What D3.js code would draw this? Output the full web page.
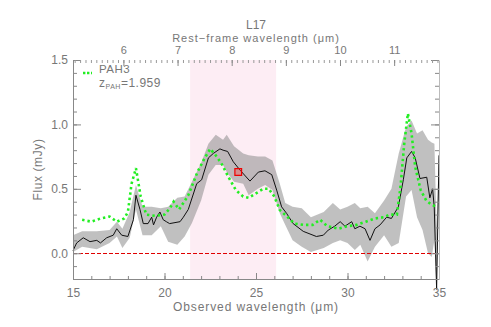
<!DOCTYPE html>
<html><head><meta charset="utf-8">
<script src="https://cdn.jsdelivr.net/npm/d3@7"></script>
<style>
html,body{margin:0;padding:0;background:#fff;}
svg text{font-family:"Liberation Sans",Arial,sans-serif;fill:#777;}
</style></head>
<body><svg id="c" width="491" height="327"></svg>
<script>
// ---- data ----
const obsWave = [15.0,15.2,15.56,15.93,16.3,16.5,16.84,17.2,17.39,17.66,18.0,18.3,18.44,18.66,18.84,19.1,19.3,19.4,19.57,19.75,19.93,20.1,20.28,20.85,21.03,21.3,21.76,22.03,22.4,22.67,23.03,23.2,23.45,23.76,24.13,24.67,25.13,25.49,25.86,26.13,26.4,26.67,27.03,27.58,28.3,28.68,28.95,29.3,29.6,29.86,30.23,30.4,30.68,30.96,31.23,31.5,31.78,32.14,32.4,32.78,33.05,33.24,33.5,33.7,33.96,34.33,34.5,34.65,34.74,34.87,35.0];
const obsFlux = [0.02,0.08,0.12,0.09,0.10,0.08,0.12,0.14,0.19,0.14,0.13,0.26,0.45,0.34,0.23,0.23,0.28,0.22,0.28,0.32,0.26,0.245,0.23,0.245,0.28,0.34,0.54,0.57,0.74,0.775,0.81,0.80,0.79,0.71,0.645,0.56,0.63,0.64,0.61,0.49,0.36,0.31,0.23,0.17,0.13,0.14,0.18,0.21,0.245,0.21,0.245,0.19,0.21,0.19,0.10,0.19,0.22,0.28,0.27,0.36,0.57,0.74,0.79,0.74,0.58,0.59,0.43,0.50,0.36,-0.28,0.76];

const bandWave = [15.0,15.5,16.3,17.0,17.4,17.7,18.1,18.44,18.8,19.3,19.8,20.2,20.7,21.1,21.5,22.0,22.4,22.8,23.2,23.4,23.8,24.3,24.6,25.1,25.5,25.9,26.3,26.6,27.0,27.5,28.0,28.7,29.2,29.6,30.0,30.4,30.7,31.1,31.5,32.0,32.4,32.8,33.2,33.5,33.8,34.1,34.4,34.6,34.75,34.87,35.0];
const bandLow = [0.01,0.05,0.03,0.08,0.13,0.04,0.12,0.34,0.14,0.14,0.21,0.09,0.065,0.13,0.235,0.41,0.61,0.685,0.685,0.63,0.555,0.54,0.45,0.50,0.53,0.49,0.31,0.22,0.10,0.05,0.01,0.04,0.08,0.10,0.08,0.025,0.065,-0.065,0.05,0.14,0.05,0.08,0.44,0.49,0.28,0.18,0.0,-0.03,0.10,-0.30,0.70];
const bandHigh = [0.14,0.17,0.17,0.18,0.245,0.19,0.32,0.53,0.36,0.36,0.35,0.36,0.43,0.44,0.555,0.70,0.85,0.92,0.88,0.92,0.83,0.775,0.76,0.75,0.75,0.72,0.54,0.39,0.36,0.35,0.28,0.32,0.39,0.34,0.36,0.39,0.35,0.36,0.31,0.41,0.50,0.775,0.98,1.03,0.93,0.955,0.88,0.86,0.85,0.20,0.80];

const modelWave = [15.5,16.0,16.5,17.0,17.4,17.8,18.0,18.2,18.44,18.7,19.0,19.5,20.0,20.3,20.5,20.8,21.3,21.8,22.2,22.5,22.8,23.1,23.5,23.9,24.3,24.6,25.0,25.4,25.7,26.0,26.3,26.7,27.1,27.6,28.1,28.5,28.9,29.5,30.0,30.5,31.0,31.5,32.0,32.3,32.7,32.9,33.1,33.3,33.5,33.7,34.0,34.3,34.6,34.9];
const modelFlux = [0.26,0.245,0.27,0.285,0.245,0.27,0.32,0.54,0.66,0.44,0.30,0.29,0.30,0.35,0.40,0.34,0.45,0.63,0.74,0.81,0.76,0.70,0.59,0.49,0.44,0.43,0.465,0.50,0.50,0.44,0.335,0.285,0.23,0.22,0.22,0.26,0.21,0.19,0.21,0.22,0.245,0.27,0.28,0.30,0.30,0.52,0.85,1.085,0.93,0.67,0.49,0.41,0.375,0.36];

const markerWave = [24.03];
const markerFlux = [0.63];

const shadeRange = [21.4, 26.1];
const redshift = 1.959;
const xTickLabels = [15,20,25,30,35];
const yTickLabels = [0.0,0.5,1.0,1.5];
const topTickLabels = [6,7,8,9,10,11];

// ---- layout ----
const L=73, R=439, T=60, B=279;
const svg = d3.select("#c");
const x = d3.scaleLinear().domain([15,35]).range([L,R]);
const y = d3.scaleLinear().domain([-0.2,1.5]).range([B,T]);
const xTop = d3.scaleLinear().domain([15/(1+redshift),35/(1+redshift)]).range([L,R]);

// shaded region
svg.append("rect").attr("x",x(shadeRange[0])).attr("y",T)
  .attr("width",x(shadeRange[1])-x(shadeRange[0])).attr("height",B-T)
  .attr("fill","#fdedf4");

// band
const idx = d3.range(bandWave.length);
svg.append("path").datum(idx)
  .attr("d", d3.area().x(i=>x(bandWave[i])).y0(i=>y(bandLow[i])).y1(i=>y(bandHigh[i])))
  .attr("fill","#8c8c8c").attr("fill-opacity",0.55);

// zero line
const y0 = Math.round(y(0))+0.5;
svg.append("line").attr("x1",L).attr("x2",R).attr("y1",y0).attr("y2",y0)
  .attr("stroke","#e00000").attr("stroke-width",1).attr("stroke-dasharray","4,2");

// observed line
svg.append("path").datum(d3.range(obsWave.length))
  .attr("d", d3.line().x(i=>x(obsWave[i])).y(i=>y(obsFlux[i])))
  .attr("fill","none").attr("stroke","#111").attr("stroke-width",1);

// model dotted
svg.append("path").datum(d3.range(modelWave.length))
  .attr("d", d3.line().x(i=>x(modelWave[i])).y(i=>y(modelFlux[i])))
  .attr("fill","none").attr("stroke","#22ee22").attr("stroke-width",2.6)
  .attr("stroke-dasharray","2.4,3");

// marker
svg.selectAll(".mk").data(d3.range(markerWave.length)).enter().append("path")
  .attr("transform",i=>`translate(${x(markerWave[i])},${y(markerFlux[i])})`)
  .attr("d", d3.symbol().type(d3.symbolSquare).size(45))
  .attr("fill","rgba(255,60,60,0.35)").attr("stroke","#e00").attr("stroke-width",1.2);

// axes
const axCol="#888";
function style(g, fs){
  g.selectAll("path.domain").attr("stroke",axCol);
  g.selectAll(".tick line").attr("stroke",axCol);
  g.selectAll("text").style("font-family","Liberation Sans, Arial, sans-serif").attr("fill","#777").attr("font-size",fs||12);
}
// bottom
const gb = svg.append("g").attr("transform",`translate(0,${B})`);
gb.call(d3.axisBottom(x).tickValues(d3.range(15,36,1)).tickSize(-3).tickFormat(""));
gb.select("path.domain").remove();
const gb2 = svg.append("g").attr("transform",`translate(0,${B})`)
  .call(d3.axisBottom(x).tickValues(xTickLabels).tickSize(-6).tickPadding(9).tickSizeOuter(0).tickFormat(d3.format("d")));
style(gb); style(gb2);
// left
const gl = svg.append("g").attr("transform",`translate(${L},0)`)
  .call(d3.axisLeft(y).tickValues(d3.range(-2,16).map(v=>v/10)).tickSize(-4).tickFormat(""));
gl.select("path.domain").remove();
const gl2 = svg.append("g").attr("transform",`translate(${L},0)`)
  .call(d3.axisLeft(y).tickValues(yTickLabels).tickSize(-8).tickPadding(5).tickSizeOuter(0).tickFormat(d3.format(".1f")));
style(gl); style(gl2);
// right
const gr = svg.append("g").attr("transform",`translate(${R},0)`)
  .call(d3.axisRight(y).tickValues(d3.range(-2,16).map(v=>v/10)).tickSize(-4).tickFormat(""));
gr.select("path.domain").remove();
const gr2 = svg.append("g").attr("transform",`translate(${R},0)`)
  .call(d3.axisRight(y).tickValues(yTickLabels).tickSize(-8).tickSizeOuter(0).tickFormat(""));
style(gr); style(gr2);
gr2.select("path.domain").attr("stroke","#bbb");
// top
const topMinor = d3.range(51,119).map(v=>v/10).filter(v=>v>=xTop.domain()[0]&&v<=xTop.domain()[1]);
const gt = svg.append("g").attr("transform",`translate(0,${T})`)
  .call(d3.axisTop(xTop).tickValues(topMinor).tickSize(-3).tickFormat(""));
gt.select("path.domain").remove();
const gt2 = svg.append("g").attr("transform",`translate(0,${T})`)
  .call(d3.axisTop(xTop).tickValues(topTickLabels).tickSize(-6).tickPadding(6).tickSizeOuter(0).tickFormat(d3.format("d")));
gt2.select("path.domain").remove();
style(gt, 11); style(gt2, 11);
gt.selectAll(".tick line").attr("stroke","#999");

// titles
const mid = (L+R)/2;
svg.append("text").attr("x",mid).attr("y",29).attr("text-anchor","middle").attr("font-size",12).text("L17");
svg.append("text").attr("x",mid).attr("y",41.5).attr("text-anchor","middle").attr("font-size",11)
  .attr("letter-spacing",1).text("Rest\u2212frame wavelength (\u03bcm)");
svg.append("text").attr("x",mid).attr("y",311).attr("text-anchor","middle").attr("font-size",12)
  .attr("letter-spacing",0.9).text("Observed wavelength (\u03bcm)");
svg.append("text").attr("transform",`translate(42,${(T+B)/2}) rotate(-90)`).attr("text-anchor","middle").attr("font-size",12)
  .attr("letter-spacing",0.6).text("Flux (mJy)");

// legend
svg.append("line").attr("x1",83).attr("x2",92).attr("y1",73).attr("y2",73)
  .attr("stroke","#22ee22").attr("stroke-width",2.6).attr("stroke-dasharray","2.4,1.6");
svg.append("text").attr("x",99).attr("y",73).attr("font-size",11.5).attr("letter-spacing",0.5).text("PAH3");
const zt = svg.append("text").attr("x",99).attr("y",87).attr("font-size",12).attr("letter-spacing",0.5);
zt.append("tspan").text("z");
zt.append("tspan").attr("font-size",7).attr("dy",2).text("PAH");
zt.append("tspan").attr("dy",-2).text("=" + redshift.toFixed(3));
</script></body></html>
